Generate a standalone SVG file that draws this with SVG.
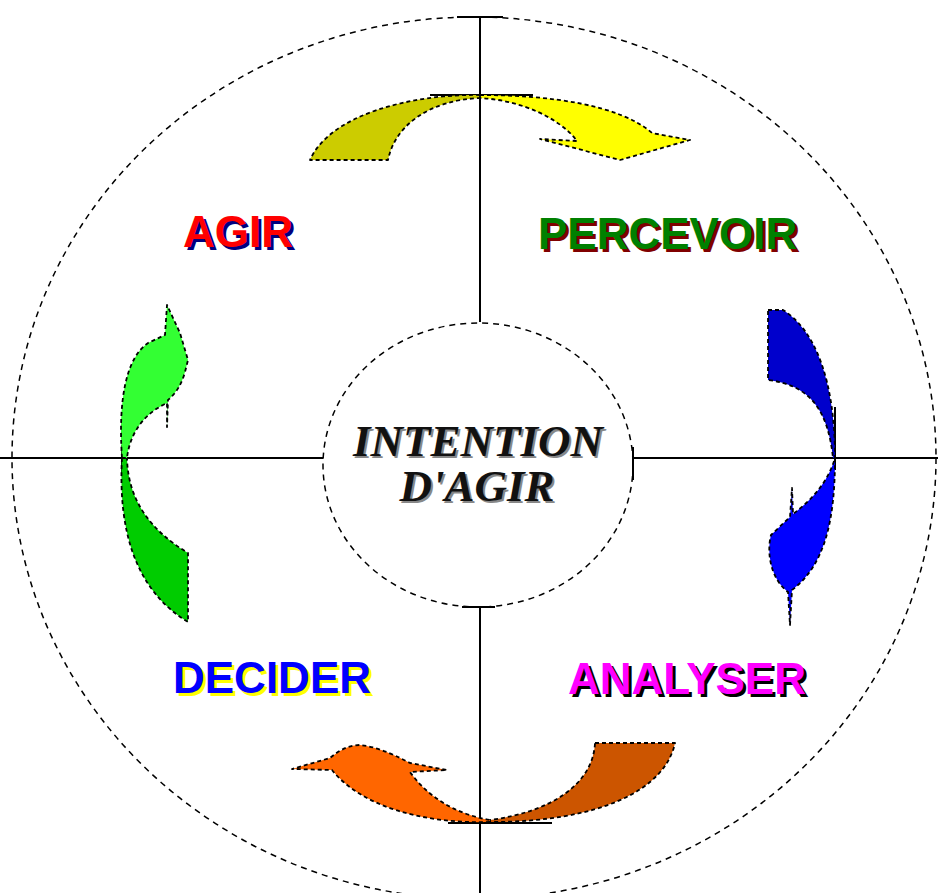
<svg xmlns="http://www.w3.org/2000/svg" width="938" height="893" viewBox="0 0 938 893">
<style>
.ax{stroke:#000;stroke-width:2;fill:none}
.dc{fill:none;stroke:#000;stroke-width:1.5;stroke-dasharray:6 5}
.ar{stroke:#000;stroke-width:1.8;stroke-dasharray:4 3;stroke-linejoin:round}
.lb{font-family:"Liberation Sans",Arial,sans-serif;font-weight:bold;font-size:44px}
.ct{font-family:"Liberation Serif","Times New Roman",serif;font-weight:bold;font-style:italic;font-size:45px;text-anchor:middle}
</style>
<rect width="938" height="893" fill="#fff"/>
<g id="circles">
<ellipse class="dc" cx="474" cy="458" rx="462" ry="441"/>
<ellipse class="dc" cx="478" cy="465" rx="155" ry="142"/>
</g>
<g id="connectors">
<line class="ax" x1="480" y1="17" x2="480" y2="322"/>
<line class="ax" x1="480" y1="607" x2="480" y2="893"/>
<line class="ax" x1="0" y1="458" x2="323" y2="458"/>
<line class="ax" x1="633" y1="458" x2="938" y2="458"/>
<line class="ax" x1="457" y1="17" x2="503" y2="17"/>
<line class="ax" x1="462" y1="607" x2="495" y2="607"/>
<line class="ax" x1="633" y1="447" x2="633" y2="480"/>
<line class="ax" x1="430" y1="95" x2="533" y2="95"/>
<line class="ax" x1="448" y1="823" x2="552" y2="823"/>
<line class="ax" x1="835" y1="407" x2="835" y2="470"/>
<line class="ax" x1="122" y1="445" x2="122" y2="475"/>
</g>
<g id="arrow-top">
<path class="ar" fill="#CCCC00" d="M480,95 C410,94 330,115 310,160 L388,160 C395,125 430,100 480,98 Z"/>
<path class="ar" fill="#FFFF00" d="M480,95 C550,95 620,105 652,133 L690,140 L620,160 L540,139 L577,141 C560,118 520,100 480,98 Z"/>
</g>
<g id="arrow-right">
<path class="ar" fill="#0000CC" d="M768,310 L783,310 C815,330 835,380 835,458 L833,458 C828,410 810,385 768,380 Z"/>
<path class="ar" fill="#0000FF" d="M835,458 C835,520 825,565 792,590 L790,625 L788,592 C772,580 766,555 771,535 L790,517 L792,488 L793,514 C812,500 828,482 835,458 Z"/>
</g>
<g id="arrow-bottom">
<path class="ar" fill="#CC5500" d="M595,743 L675,743 C665,790 600,822 490,822 L490,820 C550,812 593,785 595,743 Z"/>
<path class="ar" fill="#FF6600" d="M490,822 C420,824 360,805 332,770 L292,769 L330,758 Q345,745 360,745 C380,747 400,758 410,763 L447,770 L410,772 C430,800 460,815 490,820 Z"/>
</g>
<g id="arrow-left">
<path class="ar" fill="#00CC00" d="M122,458 C118,530 135,590 188,622 L188,553 C150,530 128,500 127,458 Z"/>
<path class="ar" fill="#33FF33" d="M122,458 C118,400 126,358 148,343 L165,335 L167,305 L180,333 L188,360 L185,372 Q180,390 168,400 L167,427 L167,403 C145,413 130,432 127,458 Z"/>
</g>
<g id="agir">
<text class="lb" x="186" y="250" fill="#000080">AGIR</text>
<text class="lb" x="183" y="247" fill="#FF0000">AGIR</text>
</g>
<g id="percevoir">
<text class="lb" x="541" y="252" fill="#800000">PERCEVOIR</text>
<text class="lb" x="538" y="249" fill="#008000">PERCEVOIR</text>
</g>
<g id="decider">
<text class="lb" x="176" y="696" fill="#FFFF00">DECIDER</text>
<text class="lb" x="173" y="693" fill="#0000FF">DECIDER</text>
</g>
<g id="analyser">
<text class="lb" x="571" y="697" fill="#000000">ANALYSER</text>
<text class="lb" x="568" y="694" fill="#FF00FF">ANALYSER</text>
</g>
<g id="intention">
<text class="ct" x="480" y="458" fill="#888">INTENTION</text>
<text class="ct" x="478" y="456" fill="#111">INTENTION</text>
<text class="ct" x="479" y="503" fill="#888">D'AGIR</text>
<text class="ct" x="477" y="501" fill="#111">D'AGIR</text>
</g>
</svg>
